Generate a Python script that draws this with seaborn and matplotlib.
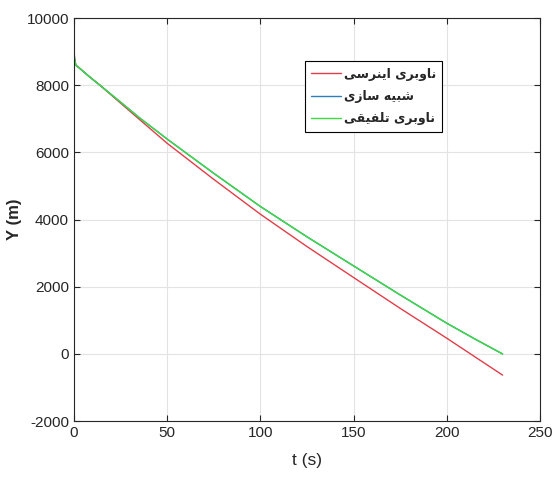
import matplotlib

matplotlib.use("Agg")
import matplotlib.pyplot as plt
import seaborn as sns
from matplotlib import font_manager

# time axis (s) and altitude Y (m)
t = [0, 0.3, 1, 3, 8, 14, 25, 35, 50, 75, 100, 125, 150, 175, 200, 215, 230]
y_inertial = [9050, 8800, 8600, 8510, 8270, 8000, 7470, 6990, 6274, 5200,
              4163, 3200, 2278, 1360, 471, -80, -630]
y_simulation = [9050, 8800, 8600, 8510, 8270, 8000, 7500, 7040, 6400, 5380,
                4393, 3490, 2624, 1760, 917, 450, 0]
y_fusion = [9050, 8800, 8600, 8510, 8270, 8000, 7500, 7040, 6400, 5380,
            4393, 3490, 2624, 1760, 917, 450, 0]

labels = ["ناوبری اینرسی", "شبیه سازی", "ناوبری تلفیقی"]
colors = ["#e23d48", "#2f7fb8", "#3ddc3d"]

x_ticks = [0, 50, 100, 150, 200, 250]
y_ticks = [-2000, 0, 2000, 4000, 6000, 8000, 10000]

# contextual forms (isolated, final, initial, medial) for the letters used
FORMS = {
    "\u0627": ("\uFE8D", "\uFE8E", None, None),
    "\u0628": ("\uFE8F", "\uFE90", "\uFE91", "\uFE92"),
    "\u062A": ("\uFE95", "\uFE96", "\uFE97", "\uFE98"),
    "\u0631": ("\uFEAD", "\uFEAE", None, None),
    "\u0632": ("\uFEAF", "\uFEB0", None, None),
    "\u0633": ("\uFEB1", "\uFEB2", "\uFEB3", "\uFEB4"),
    "\u0634": ("\uFEB5", "\uFEB6", "\uFEB7", "\uFEB8"),
    "\u0641": ("\uFED1", "\uFED2", "\uFED3", "\uFED4"),
    "\u0642": ("\uFED5", "\uFED6", "\uFED7", "\uFED8"),
    "\u0644": ("\uFEDD", "\uFEDE", "\uFEDF", "\uFEE0"),
    "\u0646": ("\uFEE5", "\uFEE6", "\uFEE7", "\uFEE8"),
    "\u0647": ("\uFEE9", "\uFEEA", "\uFEEB", "\uFEEC"),
    "\u0648": ("\uFEED", "\uFEEE", None, None),
    "\u06CC": ("\uFEEF", "\uFEF0", "\uFEF3", "\uFEF4"),
    "\u064A": ("\uFEEF", "\uFEF0", "\uFEF3", "\uFEF4"),
}


def shape_fa(text):
    """Join Persian letters and reverse them for left-to-right drawing."""
    out = []
    for i, ch in enumerate(text):
        if ch not in FORMS:
            out.append(ch)
            continue
        prev = text[i - 1] if i > 0 else ""
        nxt = text[i + 1] if i + 1 < len(text) else ""
        join_prev = prev in FORMS and FORMS[prev][2] is not None
        join_next = FORMS[ch][2] is not None and nxt in FORMS
        iso, fin, ini, med = FORMS[ch]
        if join_prev and join_next:
            out.append(med)
        elif join_prev:
            out.append(fin)
        elif join_next:
            out.append(ini)
        else:
            out.append(iso)
    return "".join(reversed(out))


sns.set_theme(style="whitegrid")
plt.rcParams["font.family"] = ["Liberation Sans", "DejaVu Sans"]
plt.rcParams["axes.unicode_minus"] = False

names = {f.name for f in font_manager.fontManager.ttflist}
legend_font = {"family": ["DejaVu Sans"], "weight": "bold", "size": 9}
if "DejaVu Sans Condensed" in names:
    legend_font = {"family": ["DejaVu Sans Condensed"], "weight": "bold",
                   "size": 9.5}

fig, ax = plt.subplots(figsize=(5.52, 4.78), dpi=100)
fig.subplots_adjust(left=0.134, right=0.978, top=0.962, bottom=0.119)

for ys, lab, col in zip([y_inertial, y_simulation, y_fusion], labels, colors):
    sns.lineplot(x=t, y=ys, color=col, linewidth=1.0, label=shape_fa(lab),
                 ax=ax, sort=False)

ax.set_xlim(0, 250)
ax.set_ylim(-2000, 10000)
ax.set_xticks(x_ticks)
ax.set_yticks(y_ticks)
ax.grid(True, color="#e3e3e3", linewidth=0.8)
ax.set_facecolor("white")
for sp in ax.spines.values():
    sp.set_visible(True)
    sp.set_color("#262626")
    sp.set_linewidth(0.8)
ax.tick_params(direction="in", length=4, width=0.8, colors="#262626",
               labelsize=11, bottom=True, left=True, top=True, right=True,
               labelcolor="#262626")

ax.set_xlabel("t (s)", fontsize=12.5, color="#262626")
ax.set_ylabel("Y (m)", fontsize=12, fontweight="bold", color="#262626")
ax.xaxis.set_label_coords(0.5, -0.078)
ax.yaxis.set_label_coords(-0.112, 0.5)

leg = ax.legend(loc="upper left", bbox_to_anchor=(0.496, 0.893),
                fancybox=False, framealpha=1, edgecolor="black",
                handlelength=2.4, labelspacing=0.75, borderpad=0.5,
                handletextpad=0.2, borderaxespad=0, prop=legend_font)
leg.get_frame().set_linewidth(0.8)

fig.savefig("out.png", dpi=100)
